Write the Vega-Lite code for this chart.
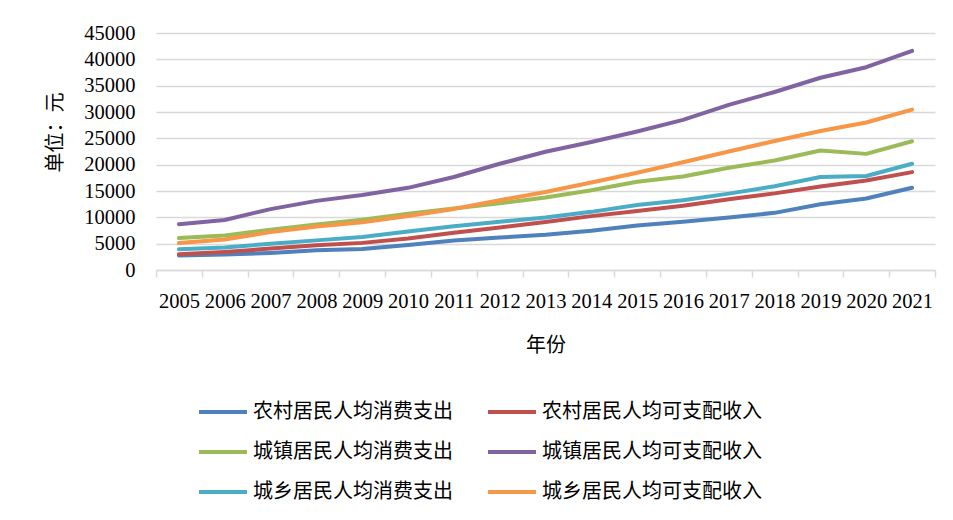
{
  "$schema": "https://vega.github.io/schema/vega-lite/v6.json",
  "width": 779,
  "height": 237,
  "autosize": {"type": "none"},
  "padding": {"left": 156, "top": 33, "right": 18, "bottom": 250},
  "background": "white",
  "config": {
    "view": {"stroke": null},
    "font": "Liberation Serif, Noto Sans CJK SC",
    "axis": {"labelFont": "Liberation Serif", "titleFont": "Noto Sans CJK SC", "labelColor": "#000", "titleColor": "#000", "titleFontWeight": "normal"},
    "legend": {"labelFont": "Noto Sans CJK SC", "labelColor": "#000"}
  },
  "data": {"values": [
    {"year":"2005","series":"农村居民人均消费支出","value":2750},
    {"year":"2006","series":"农村居民人均消费支出","value":2940},
    {"year":"2007","series":"农村居民人均消费支出","value":3250},
    {"year":"2008","series":"农村居民人均消费支出","value":3750},
    {"year":"2009","series":"农村居民人均消费支出","value":4000},
    {"year":"2010","series":"农村居民人均消费支出","value":4750},
    {"year":"2011","series":"农村居民人均消费支出","value":5600},
    {"year":"2012","series":"农村居民人均消费支出","value":6150},
    {"year":"2013","series":"农村居民人均消费支出","value":6700},
    {"year":"2014","series":"农村居民人均消费支出","value":7450},
    {"year":"2015","series":"农村居民人均消费支出","value":8450},
    {"year":"2016","series":"农村居民人均消费支出","value":9150},
    {"year":"2017","series":"农村居民人均消费支出","value":9980},
    {"year":"2018","series":"农村居民人均消费支出","value":10850},
    {"year":"2019","series":"农村居民人均消费支出","value":12490},
    {"year":"2020","series":"农村居民人均消费支出","value":13570},
    {"year":"2021","series":"农村居民人均消费支出","value":15620},
    {"year":"2005","series":"农村居民人均可支配收入","value":3000},
    {"year":"2006","series":"农村居民人均可支配收入","value":3440},
    {"year":"2007","series":"农村居民人均可支配收入","value":4060},
    {"year":"2008","series":"农村居民人均可支配收入","value":4690},
    {"year":"2009","series":"农村居民人均可支配收入","value":5150},
    {"year":"2010","series":"农村居民人均可支配收入","value":6000},
    {"year":"2011","series":"农村居民人均可支配收入","value":7080},
    {"year":"2012","series":"农村居民人均可支配收入","value":8090},
    {"year":"2013","series":"农村居民人均可支配收入","value":9100},
    {"year":"2014","series":"农村居民人均可支配收入","value":10230},
    {"year":"2015","series":"农村居民人均可支配收入","value":11200},
    {"year":"2016","series":"农村居民人均可支配收入","value":12200},
    {"year":"2017","series":"农村居民人均可支配收入","value":13450},
    {"year":"2018","series":"农村居民人均可支配收入","value":14550},
    {"year":"2019","series":"农村居民人均可支配收入","value":15850},
    {"year":"2020","series":"农村居民人均可支配收入","value":16980},
    {"year":"2021","series":"农村居民人均可支配收入","value":18590},
    {"year":"2005","series":"城镇居民人均消费支出","value":6060},
    {"year":"2006","series":"城镇居民人均消费支出","value":6560},
    {"year":"2007","series":"城镇居民人均消费支出","value":7625},
    {"year":"2008","series":"城镇居民人均消费支出","value":8625},
    {"year":"2009","series":"城镇居民人均消费支出","value":9560},
    {"year":"2010","series":"城镇居民人均消费支出","value":10700},
    {"year":"2011","series":"城镇居民人均消费支出","value":11680},
    {"year":"2012","series":"城镇居民人均消费支出","value":12650},
    {"year":"2013","series":"城镇居民人均消费支出","value":13750},
    {"year":"2014","series":"城镇居民人均消费支出","value":15130},
    {"year":"2015","series":"城镇居民人均消费支出","value":16750},
    {"year":"2016","series":"城镇居民人均消费支出","value":17750},
    {"year":"2017","series":"城镇居民人均消费支出","value":19400},
    {"year":"2018","series":"城镇居民人均消费支出","value":20800},
    {"year":"2019","series":"城镇居民人均消费支出","value":22700},
    {"year":"2020","series":"城镇居民人均消费支出","value":22050},
    {"year":"2021","series":"城镇居民人均消费支出","value":24450},
    {"year":"2005","series":"城镇居民人均可支配收入","value":8700},
    {"year":"2006","series":"城镇居民人均可支配收入","value":9500},
    {"year":"2007","series":"城镇居民人均可支配收入","value":11560},
    {"year":"2008","series":"城镇居民人均可支配收入","value":13125},
    {"year":"2009","series":"城镇居民人均可支配收入","value":14250},
    {"year":"2010","series":"城镇居民人均可支配收入","value":15600},
    {"year":"2011","series":"城镇居民人均可支配收入","value":17650},
    {"year":"2012","series":"城镇居民人均可支配收入","value":20170},
    {"year":"2013","series":"城镇居民人均可支配收入","value":22450},
    {"year":"2014","series":"城镇居民人均可支配收入","value":24300},
    {"year":"2015","series":"城镇居民人均可支配收入","value":26300},
    {"year":"2016","series":"城镇居民人均可支配收入","value":28500},
    {"year":"2017","series":"城镇居民人均可支配收入","value":31350},
    {"year":"2018","series":"城镇居民人均可支配收入","value":33800},
    {"year":"2019","series":"城镇居民人均可支配收入","value":36500},
    {"year":"2020","series":"城镇居民人均可支配收入","value":38500},
    {"year":"2021","series":"城镇居民人均可支配收入","value":41600},
    {"year":"2005","series":"城乡居民人均消费支出","value":3940},
    {"year":"2006","series":"城乡居民人均消费支出","value":4250},
    {"year":"2007","series":"城乡居民人均消费支出","value":5000},
    {"year":"2008","series":"城乡居民人均消费支出","value":5625},
    {"year":"2009","series":"城乡居民人均消费支出","value":6250},
    {"year":"2010","series":"城乡居民人均消费支出","value":7300},
    {"year":"2011","series":"城乡居民人均消费支出","value":8300},
    {"year":"2012","series":"城乡居民人均消费支出","value":9150},
    {"year":"2013","series":"城乡居民人均消费支出","value":9980},
    {"year":"2014","series":"城乡居民人均消费支出","value":11040},
    {"year":"2015","series":"城乡居民人均消费支出","value":12350},
    {"year":"2016","series":"城乡居民人均消费支出","value":13250},
    {"year":"2017","series":"城乡居民人均消费支出","value":14500},
    {"year":"2018","series":"城乡居民人均消费支出","value":15900},
    {"year":"2019","series":"城乡居民人均消费支出","value":17650},
    {"year":"2020","series":"城乡居民人均消费支出","value":17850},
    {"year":"2021","series":"城乡居民人均消费支出","value":20180},
    {"year":"2005","series":"城乡居民人均可支配收入","value":5125},
    {"year":"2006","series":"城乡居民人均可支配收入","value":5810},
    {"year":"2007","series":"城乡居民人均可支配收入","value":7190},
    {"year":"2008","series":"城乡居民人均可支配收入","value":8250},
    {"year":"2009","series":"城乡居民人均可支配收入","value":9060},
    {"year":"2010","series":"城乡居民人均可支配收入","value":10250},
    {"year":"2011","series":"城乡居民人均可支配收入","value":11600},
    {"year":"2012","series":"城乡居民人均可支配收入","value":13250},
    {"year":"2013","series":"城乡居民人均可支配收入","value":14800},
    {"year":"2014","series":"城乡居民人均可支配收入","value":16600},
    {"year":"2015","series":"城乡居民人均可支配收入","value":18450},
    {"year":"2016","series":"城乡居民人均可支配收入","value":20450},
    {"year":"2017","series":"城乡居民人均可支配收入","value":22500},
    {"year":"2018","series":"城乡居民人均可支配收入","value":24500},
    {"year":"2019","series":"城乡居民人均可支配收入","value":26400},
    {"year":"2020","series":"城乡居民人均可支配收入","value":28000},
    {"year":"2021","series":"城乡居民人均可支配收入","value":30450}
  ]},
  "mark": {"type": "line", "strokeWidth": 4, "strokeCap": "round", "strokeJoin": "round"},
  "encoding": {
    "x": {
      "field": "year", "type": "ordinal",
      "scale": {"type": "band", "paddingInner": 0, "paddingOuter": 0},
      "axis": {
        "title": "年份", "titleFontSize": 20, "titlePadding": 24,
        "labelAngle": 0, "labelFontSize": 20.5, "labelPadding": 14,
        "tickBand": "extent", "tickSize": 7, "tickColor": "#d9d9d9", "tickWidth": 1.5,
        "domainColor": "#d9d9d9", "domainWidth": 1.5, "grid": false
      }
    },
    "y": {
      "field": "value", "type": "quantitative",
      "scale": {"domain": [0, 45000], "nice": false},
      "axis": {
        "title": "单位：元", "titleFontSize": 20, "titleAngle": -90,
        "titleX": -101, "titleY": 99, "titleAlign": "center", "titleBaseline": "middle",
        "values": [0,5000,10000,15000,20000,25000,30000,35000,40000,45000],
        "labelFontSize": 20.5, "labelPadding": 21, "format": "d",
        "domain": false, "ticks": false,
        "grid": true, "gridColor": "#d9d9d9", "gridWidth": 1.5
      }
    },
    "color": {
      "field": "series", "type": "nominal",
      "scale": {
        "domain": ["农村居民人均消费支出","农村居民人均可支配收入","城镇居民人均消费支出","城镇居民人均可支配收入","城乡居民人均消费支出","城乡居民人均可支配收入"],
        "range": ["#4F81BD","#C0504D","#9BBB59","#8064A2","#4BACC6","#F79646"]
      },
      "legend": {
        "title": null, "orient": "none", "legendX": 41, "legendY": 365,
        "columns": 2, "direction": "horizontal",
        "symbolType": "M-1,0H3", "symbolSize": 576, "symbolStrokeWidth": 4,
        "labelFontSize": 20, "labelOffset": 28, "rowPadding": 16, "columnPadding": 27,
        "labelLimit": 400
      }
    }
  }
}
